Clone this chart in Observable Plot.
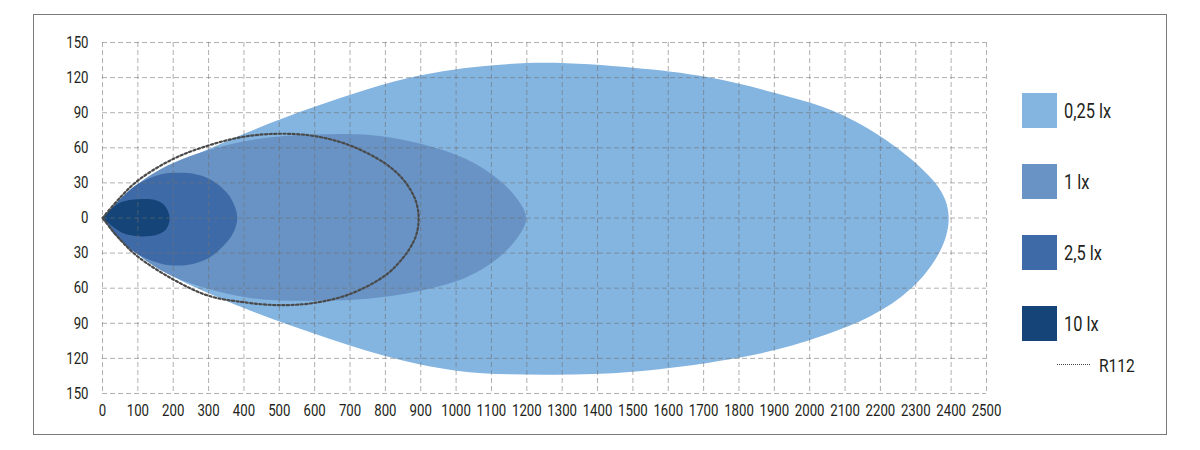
<!DOCTYPE html>
<html>
<head>
<meta charset="utf-8">
<script src="https://cdn.jsdelivr.net/npm/d3@7"></script>
<script src="https://cdn.jsdelivr.net/npm/@observablehq/plot@0.6"></script>
<style>
  html, body { margin: 0; padding: 0; background: #fff; }
  body { width: 1200px; height: 450px; position: relative; overflow: hidden; font-family: Roboto, "Noto Sans", sans-serif; }
  #frame { position: absolute; left: 33px; top: 14px; width: 1132px; height: 419px; border: 1px solid #7a7a7a; }
  #chart { position: absolute; left: 0; top: 0; }
  .sw { position: absolute; width: 35px; height: 35px; }
  .lab { position: absolute; font-size: 20px; color: #231f20; line-height: 1; white-space: nowrap;
         transform: scaleX(0.82); transform-origin: left center; }
  .dots { position: absolute; height: 0; border-top: 1.5px dotted #444; }
</style>
</head>
<body>
<div id="frame"></div>
<div id="chart"></div>
<div id="legend"></div>
<script>
// ---- data (distance in m along x, lateral offset in m along y) ----
const xTicks = [0,100,200,300,400,500,600,700,800,900,1000,1100,1200,1300,1400,1500,1600,1700,1800,1900,2000,2100,2200,2300,2400,2500];
const yTicks = [-150,-120,-90,-60,-30,0,30,60,90,120,150];

const legendLabels = ["0,25 lx", "1 lx", "2,5 lx", "10 lx"];
const legendColors = ["#84b4e0", "#6893c4", "#3e6ba8", "#154478"];
const r112Label = "R112";

// 0,25 lx isolux outline: upper edge (origin -> tip), lower edge (tip -> origin)
const lx025Upper = [[0,0],[100,29],[300,59],[600,95],[900,122],[1200,132.4],[1500,128.5],[1710,120.5],[1900,107],[2082,89.5],[2251,59],[2355,30],[2384,15],[2393,0]];
const lx025Lower = [[2386,-15],[2364,-31],[2320,-50],[2260,-67],[2200,-79],[2129,-90],[1950,-109],[1770,-121],[1500,-131.5],[1250,-134],[1000,-130.5],[800,-118],[600,-99],[400,-77],[200,-50],[100,-31],[0,0]];

// 1 lx
const lx1Upper = [[0,0],[100,29],[200,47],[400,65.5],[600,71.3],[800,69.5],[1000,54],[1100,37.5],[1163,20],[1198,0]];
const lx1Lower = [[1163,-21],[1097,-39],[1000,-54],[800,-67.3],[600,-70.7],[400,-67.5],[200,-50],[100,-31],[0,0]];

// 2,5 lx
const lx25Upper = [[0,0],[36,12],[100,29],[166,37.5],[225,38.6],[258,37.8],[305,33],[352,21.6],[374,10],[381,0]];
const lx25Lower = [[374,-10],[352,-20.5],[305,-33.3],[258,-39],[211,-40.5],[166,-39],[100,-31],[36,-15],[0,0]];

// 10 lx
const lx10Upper = [[0,0],[26,8],[54,13.6],[100,16],[147,15.6],[175,11],[190,0]];
const lx10Lower = [[180,-9.6],[156,-14],[100,-15.6],[54,-12.4],[19,-5],[0,0]];

// R112 reference outline
const r112Upper = [[0,0],[50,17.5],[100,32],[200,50.5],[300,62],[400,69.5],[500,72],[600,70],[700,62],[800,46.5],[850,33],[880,19],[891,9],[894,0]];
const r112Lower = [[891,-10],[880,-20],[850,-34],[800,-49],[700,-65],[600,-72.5],[500,-74.5],[400,-72],[300,-66.5],[200,-52.5],[100,-33],[50,-18.5],[0,0]];

// ---- build outlines ----
const outline = (up, low) => up.concat(low).map(([x, y]) => ({x, y}));
const shapes = [
  {pts: outline(lx025Upper, lx025Lower), color: legendColors[0]},
  {pts: outline(lx1Upper, lx1Lower), color: legendColors[1]},
  {pts: outline(lx25Upper, lx25Lower), color: legendColors[2]},
  {pts: outline(lx10Upper, lx10Lower), color: legendColors[3]}
];
const r112 = outline(r112Upper, r112Lower);

const chart = Plot.plot({
  width: 1000,
  height: 450,
  marginLeft: 102,
  marginRight: 14,
  marginTop: 42,
  marginBottom: 57,
  style: {fontFamily: "Roboto, 'Noto Sans', sans-serif", fontSize: "16.5px", color: "#231f20", background: "transparent", overflow: "visible"},
  x: {domain: [0, 2500], label: null},
  y: {domain: [-150, 150], label: null},
  marks: [
    ...shapes.map(s => Plot.line(s.pts, {x: "x", y: "y", fill: s.color, stroke: "none", curve: "catmull-rom"})),
    Plot.gridX(xTicks, {stroke: "#707070", strokeOpacity: 0.55, strokeWidth: 1, strokeDasharray: "5,3"}),
    Plot.gridY(yTicks, {stroke: "#707070", strokeOpacity: 0.55, strokeWidth: 1, strokeDasharray: "5,3"}),
    Plot.line(r112, {x: "x", y: "y", stroke: "#4a4a4a", strokeWidth: 2.2, strokeDasharray: "2.2,2.4", curve: "catmull-rom"}),
    Plot.axisX({ticks: xTicks, tickSize: 0, tickPadding: 11, tickFormat: d => String(d), fontSize: 16.5}),
    Plot.axisY({ticks: yTicks, tickSize: 0, tickPadding: 14, tickFormat: d => String(Math.abs(d)), fontSize: 16.5})
  ]
});
// condense tick label glyphs horizontally (no condensed font installed)
chart.querySelectorAll("text").forEach(t => {
  const ax = parseFloat(t.getAttribute("x")) || 0;
  const tr = t.getAttribute("transform") || "";
  t.setAttribute("transform", `${tr} translate(${ax},0) scale(0.8,1) translate(${-ax},0)`);
});
document.getElementById("chart").appendChild(chart);

// ---- legend ----
const legend = document.getElementById("legend");
const swTop = [93, 164, 235, 306];
legendLabels.forEach((lab, i) => {
  const sw = document.createElement("div");
  sw.className = "sw";
  sw.style.left = "1022px";
  sw.style.top = swTop[i] + "px";
  sw.style.background = legendColors[i];
  legend.appendChild(sw);
  const t = document.createElement("div");
  t.className = "lab";
  t.style.left = "1064px";
  t.style.top = (swTop[i] + 7.8) + "px";
  t.textContent = lab;
  legend.appendChild(t);
});
const d = document.createElement("div");
d.className = "dots";
d.style.left = "1057px"; d.style.top = "364px"; d.style.width = "33px";
legend.appendChild(d);
const rt = document.createElement("div");
rt.className = "lab";
rt.style.left = "1099px"; rt.style.top = "355.5px"; rt.style.fontSize = "19px";
rt.textContent = r112Label;
legend.appendChild(rt);
</script>
</body>
</html>
